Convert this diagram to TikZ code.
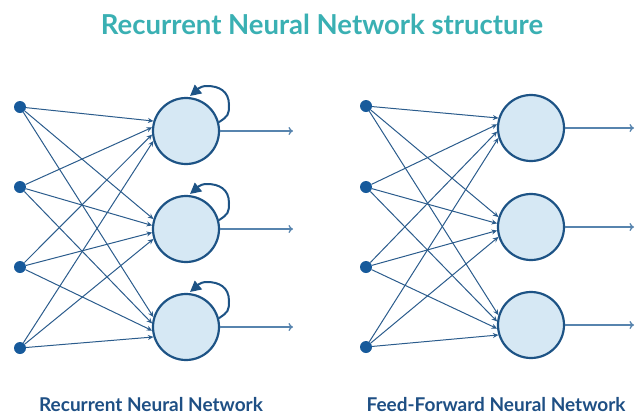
\documentclass[tikz,border=0pt]{standalone}
\usepackage{fontspec}
\setmainfont{Lato}
\usetikzlibrary{arrows.meta,calc}

\definecolor{titleteal}{HTML}{3AB0B3}
\definecolor{labelblue}{HTML}{1E4F84}
\definecolor{wireblue}{HTML}{2B5C8C}
\definecolor{dotblue}{HTML}{175A9B}
\definecolor{cellfill}{HTML}{D6E8F4}
\definecolor{cellline}{HTML}{1D5385}
\definecolor{outblue}{HTML}{5784AE}

\tikzset{
  inputdot/.style={circle, fill=dotblue, inner sep=0pt, minimum size=12pt},
  cell/.style={circle, draw=cellline, line width=2.2pt, fill=cellfill,
    inner sep=0pt, minimum size=66pt},
  wire/.style={draw=wireblue, line width=1pt,
    -{Stealth[length=5.5pt,width=5pt]}},
  outwire/.style={draw=outblue, line width=1.3pt,
    -{To[length=4.5pt,width=8pt]}},
  selfloop/.style={draw=cellline, line width=2pt,
    -{Triangle[length=11pt,width=11pt]}},
  caption/.style={font=\bfseries\fontsize{19}{22}\selectfont, text=labelblue},
}

\begin{document}
\begin{tikzpicture}[x=1pt,y=-1pt]
  \useasboundingbox (0,0) rectangle (635,416);

  \node[font=\bfseries\fontsize{27.5}{32}\selectfont, text=titleteal] (title) at (322,24) {Recurrent Neural Network structure};

  % recurrent network
  \foreach \i/\y in {1/107,2/187,3/267,4/348} \node[inputdot] (ri\i) at (20,\y) {};
  \foreach \j/\y in {1/131,2/229,3/327} {
    \node[cell] (rc\j) at (186,\y) {};
    \coordinate (ro\j) at (293,\y);
  }
  \foreach \j in {1,2,3} {
    \foreach \i/\a in {1/163,2/174,3/186,4/197} \draw[wire] (ri\i) -- (rc\j.\a);
    \draw[outwire] (rc\j.east) -- (ro\j);
    % recurrent self connection
    \draw[selfloop] (rc\j.15)
      .. controls +(9,-6) and +(0,10) .. ($(rc\j.center)+(43,-26)$)
      .. controls +(0,-14) and +(12,0) .. ($(rc\j.center)+(21,-45)$)
      .. controls +(-8,0) and +(6,-5) .. ($(rc\j.center)+(4,-35)$);
  }
  \node[caption] (rlabel) at (151,405) {Recurrent Neural Network};

  % feed-forward network
  \foreach \i/\y in {1/106,2/187,3/267,4/347} \node[inputdot] (fi\i) at (366,\y) {};
  \foreach \j/\y in {1/128,2/227,3/325} {
    \node[cell] (fc\j) at (531,\y) {};
    \coordinate (fo\j) at (634,\y);
  }
  \foreach \j in {1,2,3} {
    \foreach \i/\a in {1/163,2/174,3/186,4/197} \draw[wire] (fi\i) -- (fc\j.\a);
    \draw[outwire] (fc\j.east) -- (fo\j);
  }
  \node[caption] (flabel) at (496,405) {Feed-Forward Neural Network};
\end{tikzpicture}
\end{document}
